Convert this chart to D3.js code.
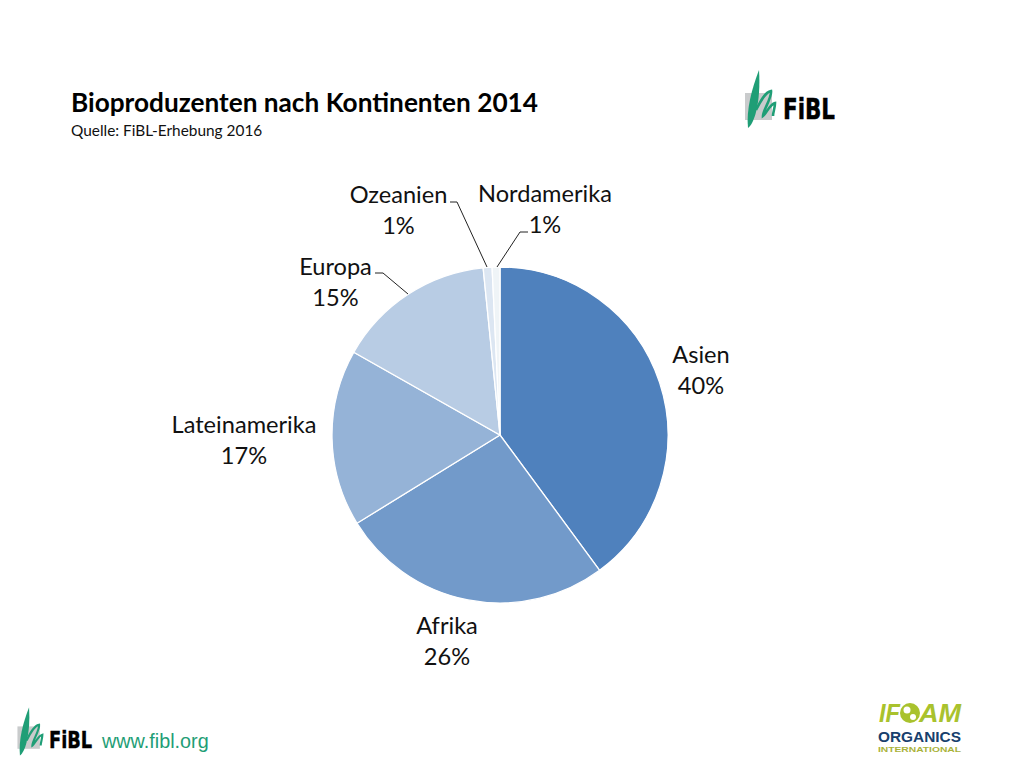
<!DOCTYPE html>
<html>
<head>
<meta charset="utf-8">
<script src="https://cdnjs.cloudflare.com/ajax/libs/d3/7.8.5/d3.min.js"></script>
<style>
  html, body { margin: 0; padding: 0; background: #fff; }
  svg { display: block; }
  text { font-family: Lato, "Open Sans", sans-serif; fill: #111; }
</style>
</head>
<body>
<svg id="chart" width="1024" height="768"></svg>
<script>
const continents = ["Asien", "Afrika", "Lateinamerika", "Europa", "Ozeanien", "Nordamerika"];
const shares = [39.9, 26.3, 17.0, 15.2, 0.85, 0.75];
const colors = ["#4f81bd", "#729aca", "#95b3d7", "#b8cce4", "#dce6f2", "#eff4f7"];

const svg = d3.select("#chart");
const cx = 500, cy = 435, radius = 168;

svg.append("text").attr("x", 71).attr("y", 112)
  .attr("font-size", 26).attr("font-weight", 700)
  .attr("textLength", 467).attr("lengthAdjust", "spacingAndGlyphs")
  .style("fill", "#000")
  .text("Bioproduzenten nach Kontinenten 2014");
svg.append("text").attr("x", 71).attr("y", 136)
  .attr("font-size", 15.4)
  .text("Quelle: FiBL-Erhebung 2016");

// pie
const pie = d3.pie().sort(null).value(d => d)(shares);
const arc = d3.arc().innerRadius(0).outerRadius(radius);

svg.append("g")
  .attr("transform", `translate(${cx},${cy})`)
  .selectAll("path")
  .data(pie)
  .join("path")
  .attr("d", arc)
  .attr("fill", (d, i) => colors[i])
  .attr("stroke", "#fff")
  .attr("stroke-width", 1.3);

// data labels, placed by hand as in the original
const labelPos = [[701, 363], [447, 634], [244, 433], [335.5, 275], [398.5, 203], [545, 202]];
const labels = svg.append("g").attr("text-anchor", "middle").attr("font-size", 23.6);
continents.forEach((name, i) => {
  labels.append("text").attr("x", labelPos[i][0]).attr("y", labelPos[i][1]).text(name);
  labels.append("text").attr("x", labelPos[i][0]).attr("y", labelPos[i][1] + 31)
    .text(d3.format(".0f")(shares[i]) + "%");
});

// leader lines
const leaders = [
  [[375, 273], [383, 273], [408, 294]],
  [[450, 202], [457, 202], [487, 267]],
  [[528, 232], [520, 232], [497, 267]]
];
svg.append("g").selectAll("path")
  .data(leaders)
  .join("path")
  .attr("d", d3.line())
  .attr("fill", "none")
  .attr("stroke", "#222")
  .attr("stroke-width", 1);

// FiBL logo, local coordinates are those of the top right one
function fiblLogo(x, y, s) {
  const g = svg.append("g").attr("transform", `translate(${x},${y}) scale(${s})`);
  g.append("rect").attr("x", 15).attr("y", 33).attr("width", 27).attr("height", 27).attr("fill", "#c9cbcc");
  g.append("path")
    .attr("d", "M18,68 C16,50 22,28 29,10 C30,26 29,40 26,52 C24,60 21,66 18,68 Z")
    .attr("fill", "#1f9e76");
  g.append("path")
    .attr("d", "M26,50 C30,42 35,32 41,31 C42,38 33,50 33,56 C36,54 40,44 45,43 C45,48 43,52 43,56")
    .attr("fill", "none").attr("stroke", "#1f9e76").attr("stroke-width", 2.6);
  g.append("text").attr("x", 53).attr("y", 59)
    .attr("font-weight", 700).attr("font-size", 28)
    .attr("textLength", 52).attr("lengthAdjust", "spacingAndGlyphs")
    .attr("stroke", "#000").attr("stroke-width", 0.5)
    .style("fill", "#000").style("font-family", "'DejaVu Sans', sans-serif")
    .text("FiBL");
}
fiblLogo(730, 60, 1);
fiblLogo(5, 699, 0.83);

svg.append("text").attr("x", 102).attr("y", 748)
  .attr("font-size", 19.8).style("font-family", "'Liberation Sans', sans-serif").style("fill", "#1f9e76")
  .text("www.fibl.org");

// IFOAM logo
const ifoam = svg.append("g");
const logoText = (x, y, size, width, fill, txt, italic) => ifoam.append("text")
  .attr("x", x).attr("y", y)
  .attr("font-size", size).attr("font-weight", 700)
  .attr("font-style", italic ? "italic" : "normal")
  .attr("textLength", width).attr("lengthAdjust", "spacingAndGlyphs")
  .style("fill", fill).style("font-family", "'Liberation Sans', sans-serif")
  .text(txt);
logoText(879, 722, 26, 21, "#a9c22d", "IF", true);
logoText(919, 722, 26, 42, "#a9c22d", "AM", true);
ifoam.append("circle").attr("cx", 910).attr("cy", 713).attr("r", 10).attr("fill", "#a9c22d");
ifoam.append("circle").attr("cx", 907).attr("cy", 710).attr("r", 3.5).attr("fill", "#fff");
ifoam.append("circle").attr("cx", 913).attr("cy", 717).attr("r", 3).attr("fill", "#fff");
logoText(878, 741.5, 15, 83, "#17406d", "ORGANICS");
logoText(878, 752, 8, 83, "#a9b23a", "INTERNATIONAL");
</script>
</body>
</html>
